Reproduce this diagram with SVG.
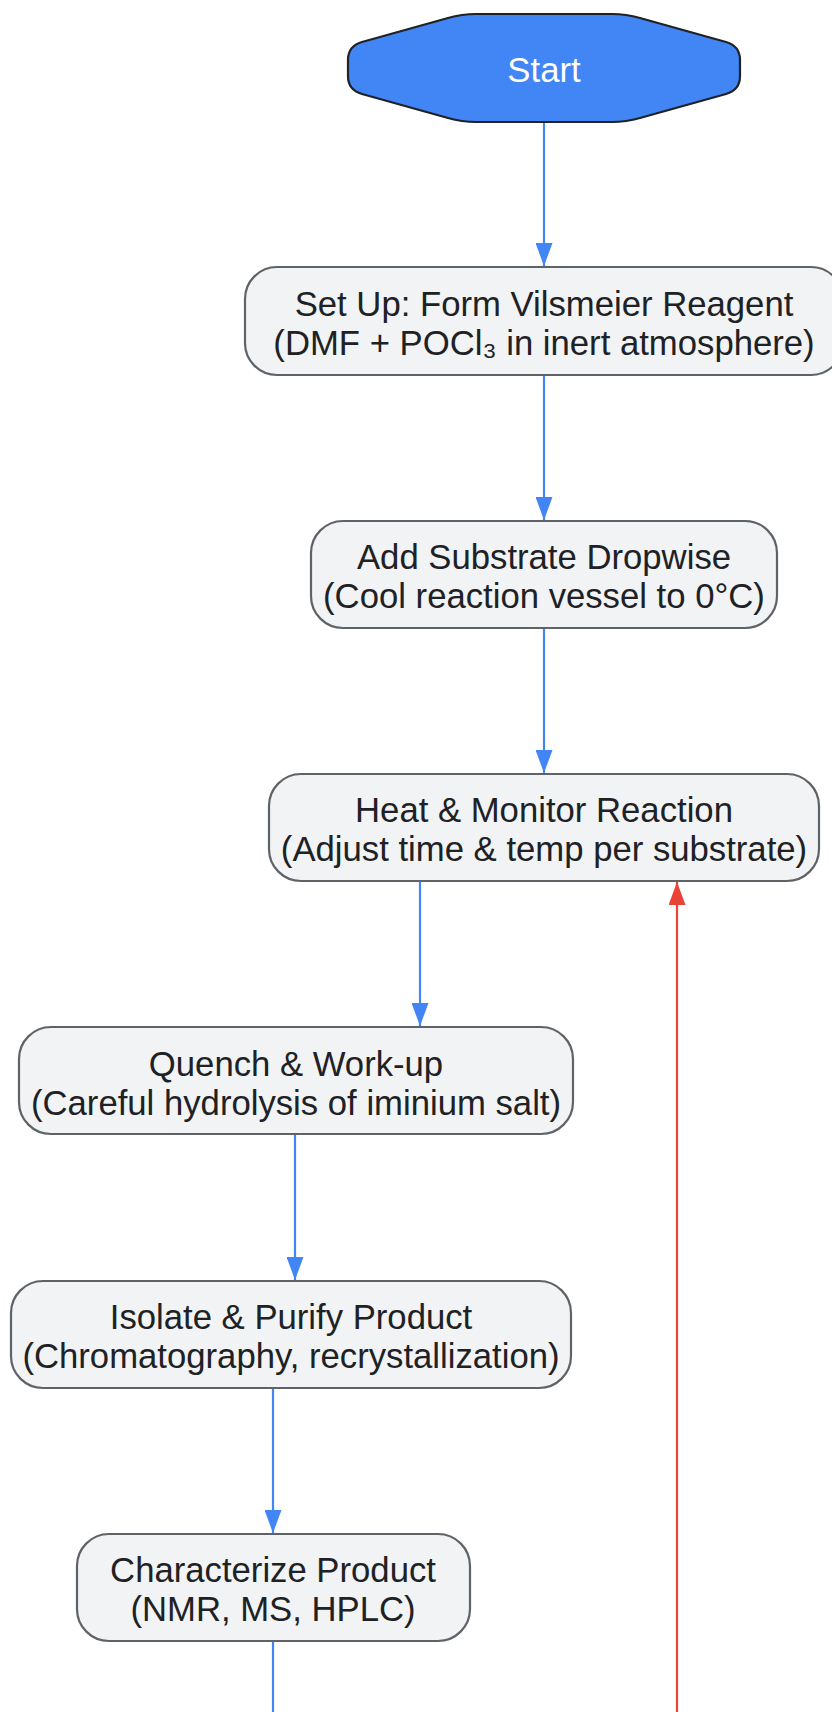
<svg xmlns="http://www.w3.org/2000/svg" width="832" height="1712" viewBox="0 0 832 1712">
<style>
.node rect{fill:#f1f3f4;stroke:#5f6368;stroke-width:2.2}
.node text{font-family:"Liberation Sans",Arial,sans-serif;font-size:34.7px;fill:#202124;text-anchor:middle;dominant-baseline:central}
.start path{fill:#4285f4;stroke:#202124;stroke-width:2.2}
.start text{font-family:"Liberation Sans",Arial,sans-serif;font-size:34.7px;fill:#ffffff;text-anchor:middle;dominant-baseline:central}
.edge{fill:none;stroke-width:2.2}
.blue{stroke:#4285f4}
.red{stroke:#ea4335}
</style>
<defs>
<marker id="ab" markerUnits="userSpaceOnUse" markerWidth="23" markerHeight="17" refX="23" refY="8.5" orient="auto"><path d="M0,0 L23,8.5 L0,17 z" fill="#4285f4"/></marker>
<marker id="ar" markerUnits="userSpaceOnUse" markerWidth="23" markerHeight="17" refX="23" refY="8.5" orient="auto"><path d="M0,0 L23,8.5 L0,17 z" fill="#ea4335"/></marker>
</defs>
<rect x="0" y="0" width="832" height="1712" fill="#ffffff"/>
<g id="connectors">
<path class="edge blue" d="M544,122 L544,266" marker-end="url(#ab)"/>
<path class="edge blue" d="M544,375 L544,520" marker-end="url(#ab)"/>
<path class="edge blue" d="M544,628 L544,773" marker-end="url(#ab)"/>
<path class="edge blue" d="M420,881 L420,1026" marker-end="url(#ab)"/>
<path class="edge blue" d="M295,1134 L295,1280" marker-end="url(#ab)"/>
<path class="edge blue" d="M273,1388 L273,1533" marker-end="url(#ab)"/>
<path class="edge blue" d="M273,1641 L273,1720"/>
<path class="edge red" d="M677,1720 L677,882" marker-end="url(#ar)"/>
</g>
<g id="start" class="start">
<path d="M476,14 L612,14 Q626,14 640,18 L726,42 Q740,46 740,60 L740,76 Q740,90 726,94 L640,118 Q626,122 612,122 L476,122 Q462,122 448,118 L362,94 Q348,90 348,76 L348,60 Q348,46 362,42 L448,18 Q462,14 476,14 Z"/>
<text x="544" y="70">Start</text>
</g>
<g id="setup" class="node">
<rect x="245" y="267" width="598" height="108" rx="32" ry="32"/>
<text x="544" y="304">Set Up: Form Vilsmeier Reagent</text>
<text x="544" y="343">(DMF + POCl₃ in inert atmosphere)</text>
</g>
<g id="add" class="node">
<rect x="311" y="521" width="466" height="107" rx="32" ry="32"/>
<text x="544" y="557">Add Substrate Dropwise</text>
<text x="544" y="596">(Cool reaction vessel to 0°C)</text>
</g>
<g id="heat" class="node">
<rect x="269" y="774" width="550" height="107" rx="32" ry="32"/>
<text x="544" y="810">Heat &amp; Monitor Reaction</text>
<text x="544" y="849">(Adjust time &amp; temp per substrate)</text>
</g>
<g id="quench" class="node">
<rect x="19" y="1027" width="554" height="107" rx="32" ry="32"/>
<text x="296" y="1064">Quench &amp; Work-up</text>
<text x="296" y="1103">(Careful hydrolysis of iminium salt)</text>
</g>
<g id="isolate" class="node">
<rect x="11" y="1281" width="560" height="107" rx="32" ry="32"/>
<text x="291" y="1317">Isolate &amp; Purify Product</text>
<text x="291" y="1356">(Chromatography, recrystallization)</text>
</g>
<g id="characterize" class="node">
<rect x="77" y="1534" width="393" height="107" rx="32" ry="32"/>
<text x="273" y="1570">Characterize Product</text>
<text x="273" y="1609">(NMR, MS, HPLC)</text>
</g>
</svg>
